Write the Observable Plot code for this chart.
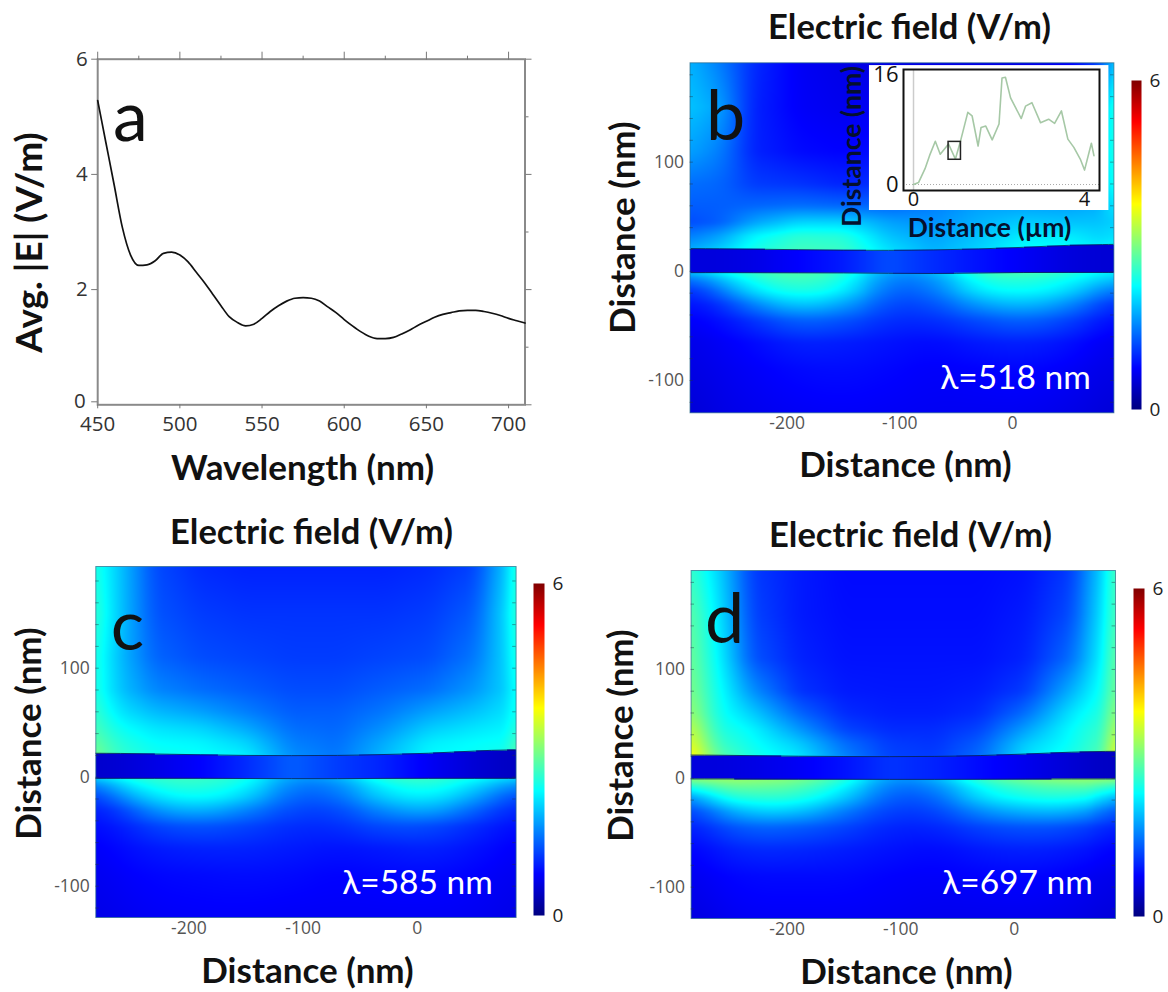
<!DOCTYPE html>
<html><head><meta charset="utf-8">
<script src="https://cdn.jsdelivr.net/npm/d3@7"></script>
<script src="https://cdn.jsdelivr.net/npm/@observablehq/plot@0.6"></script>
<style>html,body{margin:0;padding:0;background:#fff}#page{position:relative;width:1168px;height:992px;overflow:hidden}
#page svg{position:absolute;left:0;top:0;max-width:none;background:transparent}</style>
</head><body><div id="page"></div>
<script>
// ---- panel a: average field spectrum ----
const wavelength=[450,455,460,465,470,475,480,485,490,495,500,505,510,515,520,525,530,535,540,545,550,555,560,565,570,575,580,585,590,595,600,605,610,615,620,625,630,635,640,645,650,655,660,665,670,675,680,685,690,695,700,705,710];
const avgField=[5.28,4.55,3.82,3.08,2.6,2.42,2.43,2.5,2.63,2.65,2.6,2.48,2.3,2.12,1.92,1.72,1.53,1.43,1.37,1.4,1.5,1.62,1.72,1.8,1.85,1.86,1.85,1.8,1.7,1.6,1.48,1.37,1.27,1.19,1.15,1.15,1.17,1.23,1.3,1.38,1.45,1.52,1.57,1.6,1.63,1.64,1.64,1.62,1.59,1.55,1.5,1.46,1.42];
const wavelengthTicks=[450,500,550,600,650,700];
const wavelengthMinor=[475,525,575,625,675];
const fieldTicks=[0,2,4,6];
const fieldMinor=[1,3,5];
// ---- inset: height profile ----
const profileX=[0,.12,.27,.375,.51,.625,.82,.98,1.09,1.27,1.37,1.51,1.58,1.69,1.84,2.0,2.07,2.15,2.27,2.52,2.62,2.77,2.97,3.16,3.3,3.46,3.61,3.75,3.9,4.0,4.16,4.22];
const profileY=[0,.3,2.3,4.2,6.3,4.4,5.9,3.7,6.1,10.5,10,5.6,8.3,8.5,6.5,8.8,15.5,15.6,12.6,9.6,11.4,11.9,9,9.5,8.9,10.7,6.6,5.4,3.7,2.1,6,4.2];
const scanBox=[.82,1.11,3.6,6.2];
// ---- field maps: value of |E| read at these columns and rows ----
const xCols=[-285,-260,-230,-190,-150,-110,-70,-30,10,50,80,90];
const rowsUpper=[190,150,110,80,60,45,32,18];
const rowsLower=[-1,-8,-18,-30,-45,-65,-90,-130];
const bUpper=[
[1.8,1.5,1.0,.7,.6,.6,.6,.6,.6,.7,1.2,2.1],
[1.9,1.7,.95,.72,.65,.7,.9,1.0,1.1,1.3,1.7,2.6],
[1.7,1.5,.95,.8,.75,.85,1.1,1.3,1.4,1.5,1.8,2.6],
[1.4,1.35,1.1,1.05,.95,1.05,1.3,1.5,1.6,1.6,1.8,2.5],
[1.3,1.3,1.35,1.4,1.35,1.35,1.5,1.7,1.7,1.7,1.8,2.2],
[1.2,1.3,1.7,2.0,2.0,1.7,1.6,1.8,1.95,1.9,1.9,2.0],
[1.5,1.7,2.2,2.5,2.45,1.9,1.7,1.9,2.15,2.15,2.0,2.1],
[1.8,2.0,2.4,2.65,2.6,2.1,1.8,2.0,2.3,2.3,2.2,2.3]];
const bFilm=[.55,.55,.6,.75,.9,1.2,1.0,.85,.7,.55,.5,.5];
const bLower=[
[1.8,2.2,2.6,2.75,2.55,1.6,1.75,2.6,2.7,2.5,2.2,2.1],
[1.35,1.8,2.4,2.65,2.4,1.45,1.55,2.4,2.5,2.3,1.95,1.8],
[1.0,1.4,2.1,2.45,2.2,1.3,1.4,2.15,2.3,2.05,1.55,1.4],
[.85,1.0,1.55,2.0,1.75,1.15,1.2,1.7,1.9,1.6,1.15,1.0],
[.72,.82,1.05,1.35,1.25,1.0,1.0,1.2,1.35,1.15,.88,.8],
[.62,.7,.8,.95,.92,.85,.8,.9,.95,.85,.7,.65],
[.58,.65,.72,.8,.82,.78,.72,.75,.78,.72,.62,.6],
[.5,.6,.65,.7,.72,.7,.68,.68,.68,.62,.55,.5]];
const bTop=[20.8,20.6,20.3,19.8,19.3,19.2,19.6,20.5,22,23.8,24.5,24.7];
const bBottom=[-1.2,-1.2,-1.3,-1.4,-1.5,-1.8,-2,-1.6,-1.1,-1,-1,-1];
const cUpper=[
[2.5,1.9,1.2,1.0,.95,.95,.95,.95,1.0,1.15,2.0,2.7],
[2.6,1.9,1.25,1.1,1.05,1.05,1.05,1.05,1.1,1.3,2.1,2.7],
[2.5,1.85,1.35,1.2,1.15,1.1,1.1,1.15,1.2,1.45,2.05,2.6],
[2.5,1.9,1.55,1.4,1.3,1.2,1.2,1.3,1.4,1.65,2.0,2.5],
[2.6,2.1,1.85,1.7,1.5,1.3,1.3,1.45,1.7,1.9,2.1,2.5],
[2.7,2.3,2.1,2.0,1.75,1.4,1.35,1.6,1.95,2.1,2.2,2.6],
[2.85,2.45,2.25,2.2,2.0,1.5,1.4,1.75,2.15,2.25,2.3,2.8],
[3.0,2.55,2.35,2.3,2.2,1.6,1.45,1.85,2.25,2.3,2.4,3.0]];
const cFilm=[.45,.5,.6,.75,1.0,1.3,1.1,.95,.7,.5,.4,.4];
const cLower=[
[1.8,2.3,2.55,2.6,2.4,1.6,1.7,2.5,2.6,2.3,2.0,1.9],
[1.35,1.95,2.4,2.5,2.25,1.45,1.5,2.25,2.45,2.05,1.6,1.5],
[1.05,1.55,2.1,2.3,2.0,1.3,1.35,2.0,2.2,1.75,1.25,1.15],
[.9,1.1,1.65,1.85,1.55,1.15,1.15,1.6,1.8,1.35,1.0,.95],
[.8,.9,1.15,1.25,1.15,1.0,1.0,1.2,1.2,1.0,.85,.8],
[.7,.8,.9,.95,.95,.9,.85,.9,.95,.85,.75,.7],
[.65,.72,.78,.8,.82,.8,.75,.78,.8,.75,.68,.65],
[.6,.65,.7,.72,.72,.7,.7,.7,.7,.68,.62,.6]];
const cTop=[22,21.8,21.3,20.6,20,19.8,20,20.8,22,24,25,25];
const cBottom=[-1,-1,-1,-1,-1.2,-1.3,-1.3,-1.1,-1,-1,-1,-1];
const dUpper=[
[2.6,2.0,1.1,.9,.8,.8,.8,.8,.85,1.1,2.1,2.8],
[2.8,2.1,1.15,.9,.82,.82,.82,.82,.9,1.2,2.2,2.8],
[2.9,2.2,1.25,.95,.85,.85,.85,.85,.95,1.4,2.3,2.95],
[3.0,2.3,1.6,1.05,.9,.88,.88,.92,1.1,1.8,2.4,3.05],
[3.15,2.35,1.95,1.35,1.0,.92,.92,1.0,1.4,2.1,2.5,3.25],
[3.4,2.45,2.2,1.65,1.15,1.0,1.0,1.15,1.7,2.25,2.6,3.45],
[3.6,2.6,2.3,1.95,1.4,1.1,1.05,1.3,1.95,2.3,2.7,3.65],
[3.85,2.8,2.4,2.15,1.55,1.15,1.1,1.4,2.1,2.4,2.8,3.85]];
const dFilm=[.55,.55,.6,.7,.85,1.05,.95,.8,.65,.5,.4,.4];
const dLower=[
[3.0,3.15,3.1,3.0,2.5,1.55,1.7,2.6,2.95,3.1,3.1,3.0],
[2.3,2.8,2.85,2.75,2.25,1.4,1.5,2.3,2.65,2.75,2.7,2.3],
[1.5,2.3,2.5,2.45,1.95,1.25,1.3,2.05,2.35,2.4,2.15,1.6],
[1.1,1.6,2.0,1.95,1.5,1.1,1.12,1.6,1.85,1.85,1.5,1.15],
[.9,1.15,1.35,1.3,1.15,.95,.95,1.15,1.25,1.2,1.0,.9],
[.75,.9,1.0,.98,.92,.85,.8,.9,.95,.9,.8,.72],
[.65,.75,.8,.8,.8,.75,.72,.75,.78,.72,.65,.62],
[.55,.65,.7,.7,.7,.68,.65,.65,.65,.62,.55,.52]];
const dTop=[21.4,21.2,20.8,20.3,20,19.9,20.1,20.9,22.3,24,24.7,24.8];
const dBottom=[-.6,-.6,-.7,-.8,-.9,-1,-1,-.9,-.7,-.6,-.6,-.6];
const distanceTicks=[-200,-100,0];
const heightTicks=[-100,0,100];
const sideTicks=[-120,-100,-80,-60,-40,-20,0,20,40,60,80,100,120,140,160,180];
const jetStops=[0,.75,2.25,3.75,5.25,6];
const jetColors=["#000080","#0000ff","#00ffff","#ffff00","#ff0000","#800000"];

// ---- helpers ----
const W=1168,H=992;
const page=document.getElementById("page");
const BOLD='Lato, "Open Sans", sans-serif';
const TICK='"Open Sans", sans-serif';
function put(frame,opts){
  page.appendChild(Plot.plot({width:W,height:H,marginLeft:frame.left,marginRight:W-frame.right,marginTop:frame.top,marginBottom:H-frame.bottom,...opts}));
}
function lab(frame,text,cx,cy,size,o={}){
  return Plot.text([text],{text:d=>d,frameAnchor:"top-left",dx:cx-frame.left,dy:cy-frame.top,textAnchor:"middle",lineAnchor:"middle",fontSize:size,fontFamily:BOLD,fontWeight:700,fill:"#111",...o});
}
function lookup(arr,v){
  const n=arr.length,asc=arr[1]>arr[0];
  let i=0;
  while(i<n-2 && (asc? v>arr[i+1] : v<arr[i+1])) i++;
  let t=(v-arr[i])/(arr[i+1]-arr[i]);
  t=Math.max(0,Math.min(1,t));
  return [i,t];
}
const cols=(row,x)=>{const [i,t]=lookup(xCols,x);return row[i]*(1-t)+row[i+1]*t;};
const spreadUp=[-8,-4,0,4,8],spreadLow=[-18,-12,-6,0,6,12,18],spreadY=[-2,0,2];
function field(up,film,low,top,bot){
  const grid=(g,rows,x,y)=>{const [j,u]=lookup(rows,y);return cols(g[j],x)*(1-u)+cols(g[j+1],x)*u;};
  const soft=(g,rows,sx,x,y)=>{let s=0;for(const a of sx)for(const b of spreadY)s+=grid(g,rows,x+a,y+b);return s/(sx.length*spreadY.length);};
  return (x,y)=>{
    if(y>cols(top,x)) return soft(up,rowsUpper,spreadUp,x,y);
    if(y<cols(bot,x)) return soft(low,rowsLower,spreadLow,x,y);
    let s=0;for(const a of spreadUp)s+=cols(film,x+a);return s/spreadUp.length;
  };
}
const jet={type:"linear",domain:jetStops,range:jetColors,clamp:true};

function heatPanel(p){
  const f=p.frame,[x0,x1]=p.xd,[y0,y1]=p.yd;
  put(f,{x:{domain:p.xd,label:null},y:{domain:p.yd,label:null},color:jet,marks:[
    Plot.raster({fill:field(p.up,p.film,p.low,p.top,p.bot),x1:x0,x2:x1,y1:y0,y2:y1,pixelSize:1}),
    Plot.lineY(xCols.map((x,i)=>({x,y:p.top[i]})),{x:"x",y:"y",stroke:"#06204f",strokeWidth:1,curve:"monotone-x",strokeOpacity:.8,clip:true}),
    Plot.lineY(xCols.map((x,i)=>({x,y:p.bot[i]})),{x:"x",y:"y",stroke:"#06204f",strokeWidth:1,curve:"monotone-x",strokeOpacity:.8,clip:true}),
    Plot.frame({stroke:"#2a6a8a",strokeWidth:1,strokeOpacity:.7}),
    Plot.ruleY(sideTicks,{x1:x0,x2:x0+3,stroke:"#234",strokeOpacity:.45}),
    Plot.ruleY(sideTicks,{x1:x1-3,x2:x1,stroke:"#234",strokeOpacity:.45}),
    Plot.axisX({label:null,ticks:distanceTicks,tickSize:0,tickPadding:4,tickFormat:String,fontSize:17.5,fontFamily:TICK,color:"#555"}),
    Plot.axisY({label:null,ticks:heightTicks,tickSize:0,tickPadding:6,tickFormat:String,fontSize:17.5,fontFamily:TICK,color:"#555"}),
    lab(f,"Electric field (V/m)",p.title[0],p.title[1],34.5),
    lab(f,"Distance (nm)",p.xlab[0],p.xlab[1],35),
    lab(f,"Distance (nm)",p.ylab[0],p.ylab[1],35,{rotate:-90}),
    lab(f,p.letter,p.let[0],p.let[1],70,{fontWeight:400}),
    lab(f,p.lambda,p.lam[0],p.lam[1],33.5,{fontWeight:400,fill:"#fff"})
  ]});
  const b=p.bar;
  put({left:b[0],right:b[1],top:b[2],bottom:b[3]},{x:{domain:[0,1],axis:null},y:{domain:[0,6],label:null},color:jet,marks:[
    Plot.raster({fill:(x,y)=>y,x1:0,x2:1,y1:0,y2:6,pixelSize:1}),
    Plot.axisY({label:null,anchor:"right",ticks:[0,6],tickSize:0,tickPadding:8,tickFormat:String,fontSize:19,fontFamily:TICK,color:"#222"})
  ]});
}

// ---- panel a ----
const fa={left:97.2,right:524.5,top:58.7,bottom:404.3};
put(fa,{x:{domain:[450,710],label:null},y:{domain:[0,6],label:null},marks:[
  Plot.frame({stroke:"#8a8a8a",strokeWidth:2}),
  Plot.lineY(wavelength.map((x,i)=>({x,y:avgField[i]})),{x:"x",y:"y",stroke:"#111",strokeWidth:1.7,curve:"monotone-x"}),
  Plot.axisX({label:null,ticks:wavelengthTicks,tickSize:4,tickPadding:8,tickFormat:String,fontSize:20.5,fontFamily:TICK,color:"#333",stroke:"#777"}),
  Plot.axisX({label:null,anchor:"top",ticks:wavelengthTicks,tickSize:8,text:null,stroke:"#777"}),
  Plot.axisX({label:null,anchor:"top",ticks:wavelengthMinor,tickSize:4,text:null,stroke:"#777"}),
  Plot.axisY({label:null,ticks:fieldTicks.slice(1),tickSize:6,tickPadding:4,tickFormat:String,fontSize:20.5,fontFamily:TICK,color:"#333",stroke:"#777"}),
  Plot.axisY({label:null,ticks:[0],tickSize:6,tickPadding:6,tickFormat:String,fontSize:20.5,fontFamily:TICK,color:"#333",stroke:"#777",dy:-3}),
  Plot.axisY({label:null,anchor:"right",ticks:fieldTicks,tickSize:6,text:null,stroke:"#777"}),
  Plot.axisY({label:null,anchor:"right",ticks:fieldMinor,tickSize:3,text:null,stroke:"#777"}),
  lab(fa,"Wavelength (nm)",302,468,35),
  lab(fa,"Avg. |E| (V/m)",30,242,37,{rotate:-90}),
  lab(fa,"a",130,118,70,{fontWeight:400})
]});

heatPanel({frame:{left:689.5,right:1113.4,top:62.3,bottom:412.3},xd:[-286.2,90],yd:[-129.6,191],up:bUpper,film:bFilm,low:bLower,top:bTop,bot:bBottom,
  title:[909,27],xlab:[905,465],ylab:[623.5,227],letter:"b",let:[725,117],lambda:"λ=518 nm",lam:[1015,378],bar:[1131,1141,80,409]});
heatPanel({frame:{left:95.3,right:515.6,top:566,bottom:917},xd:[-281.6,86.6],yd:[-128.7,193.3],up:cUpper,film:cFilm,low:cLower,top:cTop,bot:cBottom,
  title:[311,532],xlab:[307,971],ylab:[29,733],letter:"c",let:[127,627],lambda:"λ=585 nm",lam:[417,883],bar:[533,544,583,915]});
heatPanel({frame:{left:690.6,right:1115,top:570,bottom:918},xd:[-284.5,89],yd:[-128.8,190.9],up:dUpper,film:dFilm,low:dLower,top:dTop,bot:dBottom,
  title:[910,535],xlab:[906,972],ylab:[621.7,735],letter:"d",let:[724,620],lambda:"λ=697 nm",lam:[1017,883],bar:[1133,1144,588,916]});

// ---- inset of panel b ----
const fi={left:903,right:1099,top:69,bottom:190};
const NAVY="#05102e";
put(fi,{x:{domain:[-.234,4.35],label:null},y:{domain:[-.87,16.73],label:null},marks:[
  Plot.rect([0],{x1:-1.03,x2:4.57,y1:-3.78,y2:17.3,fill:"#fff"}),
  Plot.ruleX([0],{stroke:"#ccc",strokeWidth:1.5}),
  Plot.ruleY([0],{stroke:"#aaa",strokeDasharray:"1,2"}),
  Plot.lineY(profileX.map((x,i)=>({x,y:profileY[i]})),{x:"x",y:"y",stroke:"#a6c8a6",strokeWidth:1.6}),
  Plot.rect([scanBox],{x1:d=>d[0],x2:d=>d[1],y1:d=>d[2],y2:d=>d[3],fill:"none",stroke:"#222",strokeWidth:1.5}),
  Plot.frame({stroke:"#111",strokeWidth:2}),
  Plot.axisX({label:null,ticks:[0,4],tickSize:0,tickPadding:1,tickFormat:String,fontSize:20,fontFamily:TICK,color:"#111"}),
  Plot.axisY({label:null,ticks:[0,16],tickSize:0,tickPadding:5,tickFormat:String,fontSize:22,fontFamily:TICK,color:"#111"}),
  lab(fi,"Distance (µm)",989,228,26.5,{fill:NAVY}),
  lab(fi,"Distance (nm)",852,146,26.5,{rotate:-90,fill:NAVY})
]});
</script></body></html>
